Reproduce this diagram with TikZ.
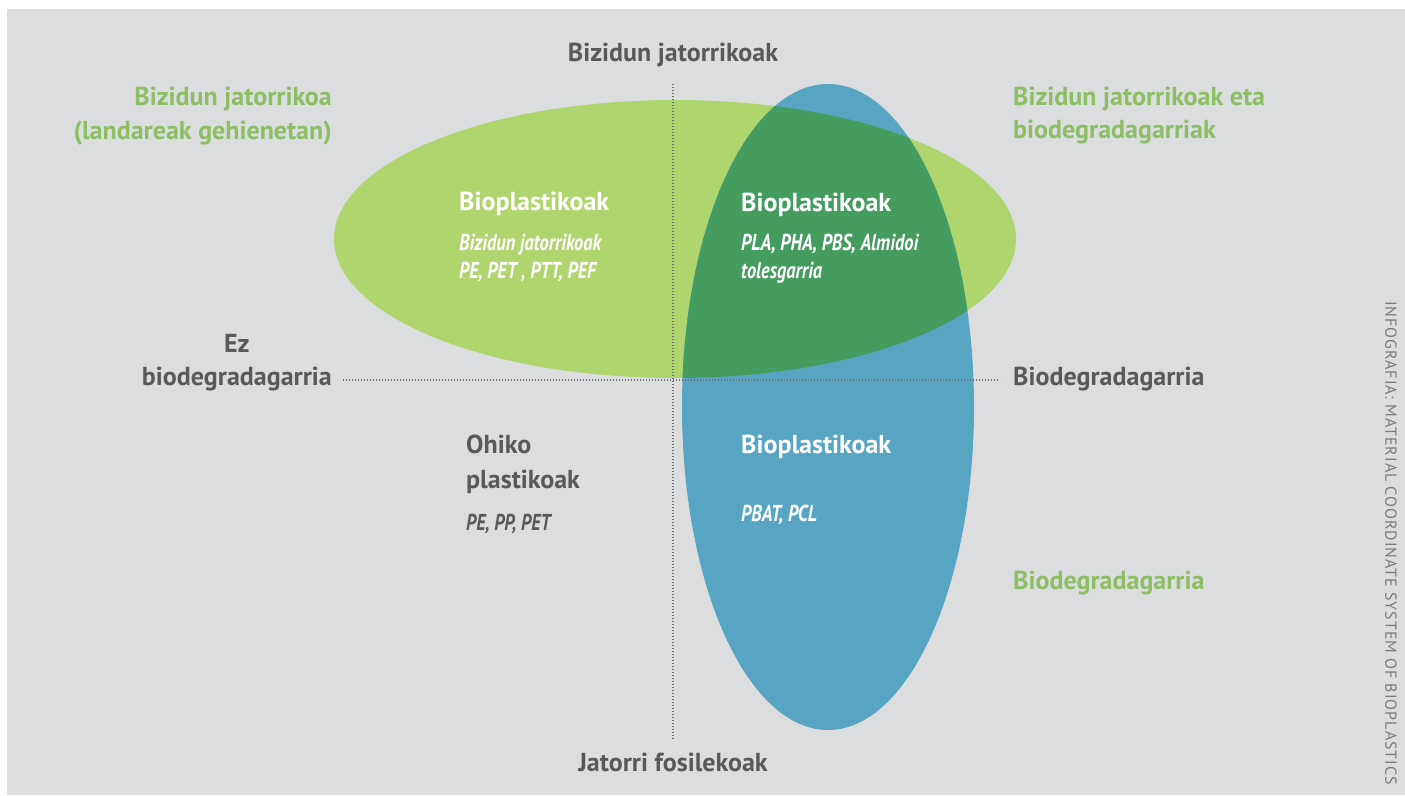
\documentclass[tikz,border=0pt]{standalone}
\usepackage{fontspec}
\setmainfont{PT Sans}
\newfontfamily\narrowfont{PT Sans}[FakeStretch=0.8]
\newfontfamily\creditfont{PT Sans}[LetterSpace=6]
\usetikzlibrary{positioning}

\definecolor{bggray}{HTML}{DCDDDF}
\definecolor{biogreen}{HTML}{AFD56F}
\definecolor{degblue}{HTML}{58A5C3}
\definecolor{bothgreen}{HTML}{459C5F}
\definecolor{lblgreen}{HTML}{8CBE64}
\definecolor{txtgray}{HTML}{58595B}
\definecolor{axisgray}{HTML}{6D6E70}

\begin{document}
\begin{tikzpicture}[x=1pt,y=-1pt]
            \tikzset{
                axislabel/.style={text=txtgray, inner sep=0pt, font=\bfseries\fontsize{26}{30}\selectfont},
                grouplabel/.style={axislabel, text=lblgreen},
                boxtitle/.style={axislabel, text=white},
                boxitems/.style={text=white, inner sep=0pt, font=\narrowfont\bfseries\itshape\fontsize{23}{25}\selectfont},
                axis/.style={draw=axisgray, line width=1.1pt, dash pattern=on 1.1pt off 1.9pt},
                credit/.style={text=txtgray!80, inner sep=0pt, font=\creditfont\fontsize{16}{18}\selectfont}
            }
            \useasboundingbox (0,0) rectangle (1405,795);
            \fill[bggray] (7,9) rectangle (1405,795);

            % sets
            \fill[biogreen] (675,239) ellipse [x radius=341, y radius=139];
            \fill[degblue] (828,407) ellipse [x radius=146, y radius=323];
            \begin{scope}
                \clip (675,239) ellipse [x radius=341, y radius=139];
                \fill[bothgreen] (828,407) ellipse [x radius=146, y radius=323];
            \end{scope}

            % axes
            \coordinate (top) at (673,84);
            \coordinate (bottom) at (673,740);
            \coordinate (left) at (343,380);
            \coordinate (right) at (1000,380);
            \draw[axis] (top) -- (bottom);
            \draw[axis] (left) -- (right);

            % axis labels
            \node[axislabel, anchor=base] (orig) at (673,61) {Bizidun jatorrikoak};
            \node[axislabel, anchor=base] (fossil) at (673,771) {Jatorri fosilekoak};
            \node[axislabel, anchor=base east] (nodeg) at (332,385) {biodegradagarria};
            \node[axislabel, above=33pt of nodeg.base, anchor=base] (ez) {Ez};
            \node[axislabel, anchor=base west] (deg) at (1013,385) {Biodegradagarria};

            % group labels
            \node[grouplabel, anchor=base east] (bio) at (332,105) {Bizidun jatorrikoa};
            \node[grouplabel, below=34pt of bio.base east, anchor=base east] (plants) {(landareak gehienetan)};
            \node[grouplabel, anchor=base west] (both) at (1013,105) {Bizidun jatorrikoak eta};
            \node[grouplabel, below=33pt of both.base west, anchor=base west] (both2) {biodegradagarriak};
            \node[grouplabel, anchor=base west] (degonly) at (1013,589) {Biodegradagarria};

            % quadrants
            \node[boxtitle, anchor=base west] (bbio) at (459,210) {Bioplastikoak};
            \node[boxitems, below=40pt of bbio.base west, anchor=base west] (bbio1) {Bizidun jatorrikoak};
            \node[boxitems, below=28pt of bbio1.base west, anchor=base west] (bbio2) {PE, PET , PTT, PEF};

            \node[boxtitle, anchor=base west] (bboth) at (741,211) {Bioplastikoak};
            \node[boxitems, below=39pt of bboth.base west, anchor=base west] (bboth1) {PLA, PHA, PBS, Almidoi};
            \node[boxitems, below=28pt of bboth1.base west, anchor=base west] (bboth2) {tolesgarria};

            \node[axislabel, anchor=base west] (conv) at (466,453) {Ohiko};
            \node[axislabel, below=35pt of conv.base west, anchor=base west] (conv1) {plastikoak};
            \node[boxitems, text=txtgray, below=42pt of conv1.base west, anchor=base west] (conv2) {PE, PP, PET};

            \node[boxtitle, anchor=base west] (bdeg) at (741,453) {Bioplastikoak};
            \node[boxitems, below=68pt of bdeg.base west, anchor=base west] (bdeg1) {PBAT, PCL};

            % credit
            \node[credit, rotate=-90] (info) at (1391,543) {INFOGRAFIA: MATERIAL COORDINATE SYSTEM OF BIOPLASTICS};
\end{tikzpicture}
\end{document}
